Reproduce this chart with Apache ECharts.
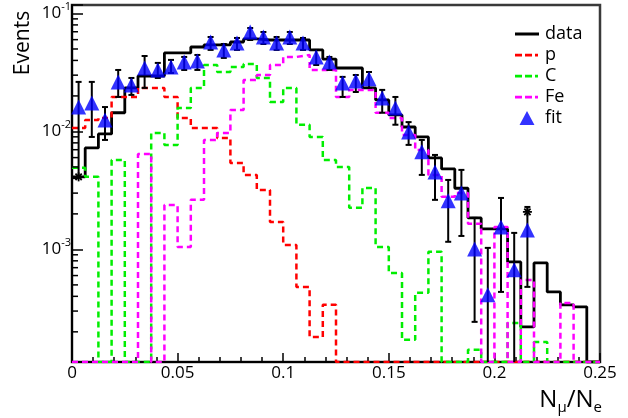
<!DOCTYPE html>
<html>
<head>
<meta charset="utf-8">
<script src="https://cdn.jsdelivr.net/npm/echarts@6/dist/echarts.min.js"></script>
<style>
  html, body { margin: 0; padding: 0; background: #fff; }
  #chart { width: 628px; height: 418px; }
</style>
</head>
<body>
<div id="chart"></div>
<script>
// N_mu/N_e histograms, 40 bins of 0.00625 between 0 and 0.25
const binWidth = 0.00625;
const yMin = 1.11e-4;
const yMax = 0.118;

const dataHist = [0.00412, 0.00725, 0.00953, 0.0144, 0.0234, 0.0295, 0.0295, 0.0463, 0.0463, 0.0520,
  0.0541, 0.0541, 0.0573, 0.0608, 0.0596, 0.0596, 0.0596, 0.0596, 0.0491, 0.0411,
  0.0345, 0.0345, 0.0234, 0.0185, 0.0138, 0.0109, 0.00898, 0.00596, 0.00481, 0.0033,
  0.00185, 0.00149, 0.00149, 0.000783, 0.000220, 0.000768, 0.000436, 0.000339, 0.000326, 0];

const pHist = [0.0107, 0.0125, 0.0130, 0.0196, 0.0196, 0.0234, 0.0234, 0.0196, 0.0130, 0.0107,
  0.0107, 0.00881, 0.00541, 0.00428, 0.00319, 0.00171, 0.00109, 0.000481, 0.000181, 0.000339,
  0, 0, 0, 0, 0, 0, 0, 0, 0, 0,
  0, 0, 0, 0, 0, 0, 0, 0, 0, 0];

const cHist = [0.00491, 0.00412, 0, 0.00573, 0, 0, 0.00971, 0.00769, 0.0158, 0.0234,
  0.0366, 0.0319, 0.0352, 0.0373, 0.0284, 0.0178, 0.0234, 0.0114, 0.00898, 0.00573,
  0.00500, 0.00225, 0.00332, 0.00105, 0.000632, 0.000171, 0.000428, 0.000953, 0, 0,
  0.000141, 0, 0, 0.000238, 0, 0.000164, 0, 0, 0, 0];

const feHist = [0, 0, 0, 0, 0, 0.00645, 0, 0.00238, 0.00105, 0.00263,
  0.00847, 0.00971, 0.0152, 0.0273, 0.0301, 0.0366, 0.0428, 0.0445, 0.0332, 0.0332,
  0.0196, 0.0225, 0.0225, 0.0144, 0.0130, 0.00934, 0.00697, 0.00428, 0.00279, 0.00301,
  0.00165, 0, 0.00155, 0, 0.000551, 0, 0, 0.000352, 0, 0];

const fitVals = [0.0161, 0.0174, 0.0125, 0.0263, 0.0248, 0.0345, 0.0332, 0.0352, 0.0388, 0.0396,
  0.0573, 0.0491, 0.0562, 0.0697, 0.0632, 0.0562, 0.0632, 0.0562, 0.0428, 0.0388,
  0.0258, 0.0268, 0.0279, 0.0192, 0.0158, 0.00990, 0.00671, 0.00454, 0.00258, 0.00301,
  0.00101, 0.000412, 0.00155, 0.000671, 0.00146, null, null, null, null, null];

// error bar ends (0 = down to the axis)
const errHigh = [0.0263, 0.0263, 0.0161, 0.0332, 0.0284, 0.0436, 0.0381, 0.0404, 0.0428, 0.0445,
  0.0632, 0.0551, 0.0620, 0.0753, 0.0697, 0.0632, 0.0697, 0.0620, 0.0491, 0.0428,
  0.0290, 0.0301, 0.0319, 0.0225, 0.0196, 0.0120, 0.00847, 0.00632, 0.00388, 0.00472,
  0.00185, 0.00103, 0.00273, 0.00138, 0.00229, null, null, null, null, null];
const errLow = [0.00412, 0.00898, 0.00847, 0.0196, 0.0204, 0.0234, 0.0284, 0.0313, 0.0332, 0.0332,
  0.0491, 0.0420, 0.0491, 0.0596, 0.0551, 0.0491, 0.0551, 0.0491, 0.0366, 0.0332,
  0.0196, 0.0216, 0.0234, 0.0144, 0.0114, 0.00769, 0.00428, 0.00263, 0.00116, 0.00130,
  0.000243, 0, 0.000436, 0, 0.000481, null, null, null, null, null];

// data points drawn with "*" where they are not hidden by the fit markers
const starBins = [0, 34];
const starVals = [0.00412, 0.00208];

const xTickStep = 0.05;

const floorY = v => (v > yMin ? v : yMin);

function stepPoints(vals) {
  const pts = vals.map((v, i) => [i * binWidth, floorY(v)]);
  pts.push([vals.length * binWidth, floorY(vals[vals.length - 1])]);
  return pts;
}

const fitData = [];
const errData = [];
fitVals.forEach((v, i) => {
  if (v == null) return;
  const x = (i + 0.5) * binWidth;
  fitData.push([x, v]);
  errData.push([x, errLow[i], errHigh[i]]);
});

// log minor ticks 2..9 x 10^k
const minorTicks = [];
for (let k = -4; k <= -1; k++) {
  for (let m = 2; m <= 9; m++) {
    const v = m * Math.pow(10, k);
    if (v > yMin && v < yMax) minorTicks.push([0, v]);
  }
}

const font = "'Open Sans', 'DejaVu Sans', sans-serif";
const dash = [6, 4];

function histSeries(name, vals, color, type, width) {
  return {
    name: name,
    type: "line",
    step: "end",
    data: stepPoints(vals),
    symbol: "none",
    color: color,
    lineStyle: { color: color, width: width, type: type },
    animation: false,
    z: 2,
  };
}

// legend icons, bbox 26x16 (corner specks keep the box)
const box = "M0,0h0.05v0.05h-0.05z M25.95,15.95h0.05v0.05h-0.05z ";
const solidIcon = "path://" + box + "M1,6.5h24v3h-24z";
const dashIcon = "path://" + box + "M1,6.8h7v2.6h-7z M11,6.8h7v2.6h-7z M21,6.8h3v2.6h-3z";
const triIcon = "path://" + box + "M13,1L20.5,15L5.5,15Z";

const chart = echarts.init(document.getElementById("chart"));
const option = {
  backgroundColor: "#fff",
  animation: false,
  grid: {
    left: 72,
    right: 28,
    top: 5,
    bottom: 56,
    show: true,
    borderColor: "#3a3a3a",
    borderWidth: 2.5,
    backgroundColor: "transparent",
    containLabel: false,
  },
  legend: {
    orient: "vertical",
    left: 509,
    top: 20,
    itemWidth: 26,
    itemHeight: 16,
    itemGap: 3,
    selectedMode: false,
    itemStyle: { borderWidth: 0 },
    textStyle: { fontSize: 18, fontFamily: font, color: "#000" },
    data: [
      { name: "data", icon: solidIcon },
      { name: "p", icon: dashIcon },
      { name: "C", icon: dashIcon },
      { name: "Fe", icon: dashIcon },
      { name: "fit", icon: triIcon },
    ],
  },
  xAxis: {
    type: "value",
    min: 0,
    max: 0.25,
    interval: xTickStep,
    axisLine: { show: true, onZero: false, lineStyle: { color: "#000", width: 2 } },
    axisTick: { show: true, inside: true, length: 9, lineStyle: { color: "#000", width: 1.5 } },
    minorTick: { show: true, splitNumber: 5, length: 5, lineStyle: { color: "#000", width: 1.5 } },
    splitLine: { show: false },
    axisLabel: { margin: 3, fontSize: 17, fontFamily: font, color: "#000" },
  },
  yAxis: {
    type: "log",
    logBase: 10,
    min: yMin,
    max: yMax,
    axisLine: { show: true, lineStyle: { color: "#000", width: 2 } },
    axisTick: { show: true, inside: true, length: 11, lineStyle: { color: "#000", width: 1.5 } },
    minorTick: { show: false },
    splitLine: { show: false },
    axisLabel: {
      margin: 1,
      formatter: function (v) {
        const e = Math.log10(v);
        const r = Math.round(e);
        if (Math.abs(e - r) > 1e-6) return "";
        return "{b|10}{s|" + r + "}";
      },
      rich: {
        b: { fontSize: 17, fontFamily: font, color: "#000", lineHeight: 24, verticalAlign: "middle" },
        s: { fontSize: 11, fontFamily: font, color: "#000", lineHeight: 14, verticalAlign: "top" },
      },
    },
  },
  graphic: [
    {
      type: "text",
      x: 23,
      y: 43,
      rotation: Math.PI / 2,
      style: { text: "Events", font: "21px " + font, fill: "#000", align: "center", verticalAlign: "middle" },
    },
    {
      type: "text",
      x: 602,
      y: 400,
      style: {
        text: "{n|N}{s|μ}{n|/N}{s|e}",
        align: "right",
        verticalAlign: "middle",
        rich: {
          n: { fontSize: 24, fontFamily: font, fill: "#000", lineHeight: 30, verticalAlign: "middle" },
          s: { fontSize: 15, fontFamily: font, fill: "#000", lineHeight: 18, verticalAlign: "bottom" },
        },
      },
    },
  ],
  series: [
    {
      name: "yMinorTicks",
      type: "custom",
      data: minorTicks,
      silent: true,
      z: 5,
      renderItem: function (params, api) {
        const p = api.coord([api.value(0), api.value(1)]);
        return {
          type: "line",
          shape: { x1: p[0], y1: p[1], x2: p[0] + 6, y2: p[1] },
          style: { stroke: "#000", lineWidth: 1.5 },
        };
      },
    },
    histSeries("data", dataHist, "#000000", "solid", 2.8),
    histSeries("p", pHist, "#ff0000", dash, 2.5),
    histSeries("C", cHist, "#00ee00", dash, 2.5),
    histSeries("Fe", feHist, "#ff00ff", dash, 2.5),
    {
      name: "errors",
      type: "custom",
      data: errData,
      silent: true,
      z: 3,
      renderItem: function (params, api) {
        const x = api.value(0);
        const top = api.coord([x, api.value(2)]);
        const lowVal = api.value(1);
        const bot = api.coord([x, floorY(lowVal)]);
        const kids = [
          { type: "line", shape: { x1: top[0], y1: top[1], x2: bot[0], y2: bot[1] }, style: { stroke: "#000", lineWidth: 2 } },
          { type: "line", shape: { x1: top[0] - 3, y1: top[1], x2: top[0] + 3, y2: top[1] }, style: { stroke: "#000", lineWidth: 2 } },
        ];
        if (lowVal > yMin) {
          kids.push({ type: "line", shape: { x1: bot[0] - 3, y1: bot[1], x2: bot[0] + 3, y2: bot[1] }, style: { stroke: "#000", lineWidth: 2 } });
        }
        return { type: "group", children: kids };
      },
    },
    {
      name: "dataStars",
      type: "custom",
      data: starBins.map((b, i) => [(b + 0.5) * binWidth, starVals[i]]),
      silent: true,
      z: 4,
      renderItem: function (params, api) {
        const p = api.coord([api.value(0), api.value(1)]);
        const r = 4.5;
        const st = { stroke: "#000", lineWidth: 1.8 };
        return {
          type: "group",
          children: [
            { type: "line", shape: { x1: p[0] - r, y1: p[1], x2: p[0] + r, y2: p[1] }, style: st },
            { type: "line", shape: { x1: p[0], y1: p[1] - r, x2: p[0], y2: p[1] + r }, style: st },
            { type: "line", shape: { x1: p[0] - r * 0.7, y1: p[1] - r * 0.7, x2: p[0] + r * 0.7, y2: p[1] + r * 0.7 }, style: st },
            { type: "line", shape: { x1: p[0] - r * 0.7, y1: p[1] + r * 0.7, x2: p[0] + r * 0.7, y2: p[1] - r * 0.7 }, style: st },
          ],
        };
      },
    },
    {
      name: "fit",
      type: "scatter",
      data: fitData,
      symbol: "triangle",
      symbolSize: 15,
      color: "#0000ff",
      itemStyle: { color: "#0000ff" },
      z: 6,
    },
  ],
};
chart.setOption(option);
window.addEventListener("resize", () => {
  chart.resize();
});
</script>
</body>
</html>
